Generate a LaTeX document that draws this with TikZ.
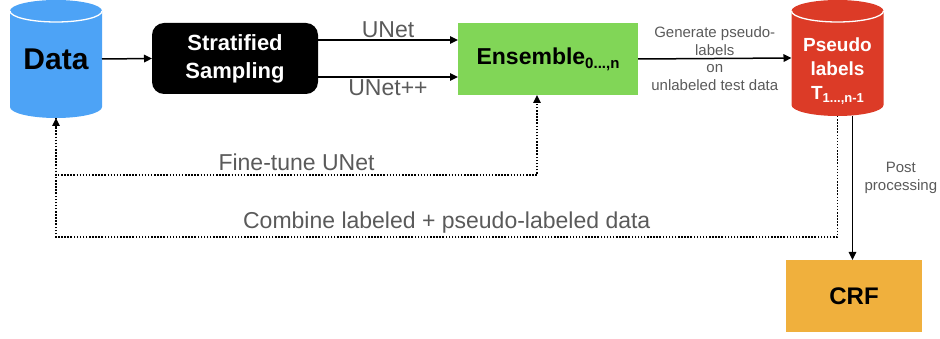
\documentclass[tikz,border=0pt]{standalone}
\usepackage{fontspec}
\setmainfont{Liberation Sans}
\usepackage{tikz}
\usetikzlibrary{arrows.meta,positioning}
\pgfdeclarelayer{background}
\pgfsetlayers{background,main}

\definecolor{dataBlue}{HTML}{4DA3F6}
\definecolor{labelRed}{HTML}{DC3B27}
\definecolor{ensGreen}{HTML}{81D657}
\definecolor{crfOrange}{HTML}{F0B03D}
\definecolor{edgeGray}{HTML}{5A5A5A}

% lowered small index: text, drop, size
\newcommand{\lowsub}[3]{\raisebox{-#2}{\fontsize{#3}{#3}\selectfont #1}}

% cylinder behind a node: name, colour
\newcommand{\drum}[2]{%
\begin{pgfonlayer}{background}
\fill[#2] ([yshift=-11pt]#1.north west) -- ([yshift=11pt]#1.south west)
  arc[start angle=180,end angle=360,x radius=46pt,y radius=11pt]
  -- ([yshift=-11pt]#1.north east)
  arc[start angle=0,end angle=180,x radius=46pt,y radius=11pt] -- cycle;
\draw[white,line width=1.3pt] ([yshift=-11pt]#1.north west)
  arc[start angle=180,end angle=360,x radius=46pt,y radius=11pt];
\end{pgfonlayer}}

\begin{document}
\begin{tikzpicture}[x=1pt,y=1pt,
  arr/.style={-{Triangle[length=8pt,width=7.5pt]},line width=1.5pt},
  dotarr/.style={arr,dash pattern=on 1.5pt off 1.6pt},
  drumnode/.style={minimum width=92pt,minimum height=118pt,inner sep=0pt,outer sep=0pt},
  stepbox/.style={minimum width=#1,minimum height=72pt,inner sep=0pt,outer sep=0pt,align=center},
  edgelbl/.style={text=edgeGray,font=\fontsize{23}{26}\selectfont},
  smalllbl/.style={text=edgeGray,font=\fontsize{15}{17.5}\selectfont,align=center}]
\useasboundingbox (0,0) rectangle (940,-339);

%Nodes
\node[drumnode,font=\fontsize{30}{32}\selectfont\bfseries] (data) at (56,-59) {Data};
\drum{data}{dataBlue}
\node[stepbox=166pt,minimum height=71pt,fill=black,rounded corners=12pt,text=white,
  font=\fontsize{22}{28}\selectfont\bfseries] (strat) at (235,-58.5) {Stratified\\Sampling};
\node[stepbox=180pt,fill=ensGreen,font=\fontsize{23}{26}\selectfont\bfseries]
  (ens) at (548,-59) {Ensemble\lowsub{0...,n}{4pt}{15}};
\node[drumnode,minimum height=116pt] (pseudo) at (837.5,-58) {};
\drum{pseudo}{labelRed}
\node[text=white,align=center,font=\fontsize{19}{24}\selectfont\bfseries]
  (pseudotxt) at ([yshift=-13pt]pseudo.center) {Pseudo\\labels\\T\lowsub{1...,n-1}{3pt}{13}};
\node[stepbox=136pt,fill=crfOrange,font=\fontsize{24}{26}\selectfont\bfseries]
  (crf) at (854,-296) {CRF};

%Forward
\draw[arr] (data.east) -- (strat.west);
\draw[arr] ([yshift=18.5pt]strat.east) -- node[above,edgelbl,inner sep=2pt] {UNet} ([yshift=19pt]ens.west);
\draw[arr] ([yshift=-18.5pt]strat.east) -- node[below,edgelbl,inner sep=2pt] {UNet++} ([yshift=-18pt]ens.west);
\draw[arr] (ens.east) -- node[smalllbl] {Generate pseudo-\\labels\\on\\unlabeled test data} (pseudo.west);
\draw[arr] ([xshift=15pt]pseudo.south) -- node[pos=0.43,right=8pt,smalllbl] {Post\\processing}
  ([xshift=15pt]pseudo.south |- crf.north);

%Feedback
\draw[dotarr] (data.south) -- ++(0,-57) -| node[pos=0.25,above,edgelbl] {Fine-tune UNet} ([xshift=-11pt]ens.south);
\draw[dotarr] (pseudo.south) -- ++(0,-121) -| node[pos=0.25,above,edgelbl] {Combine labeled + pseudo-labeled data} (data.south);

\end{tikzpicture}
\end{document}
